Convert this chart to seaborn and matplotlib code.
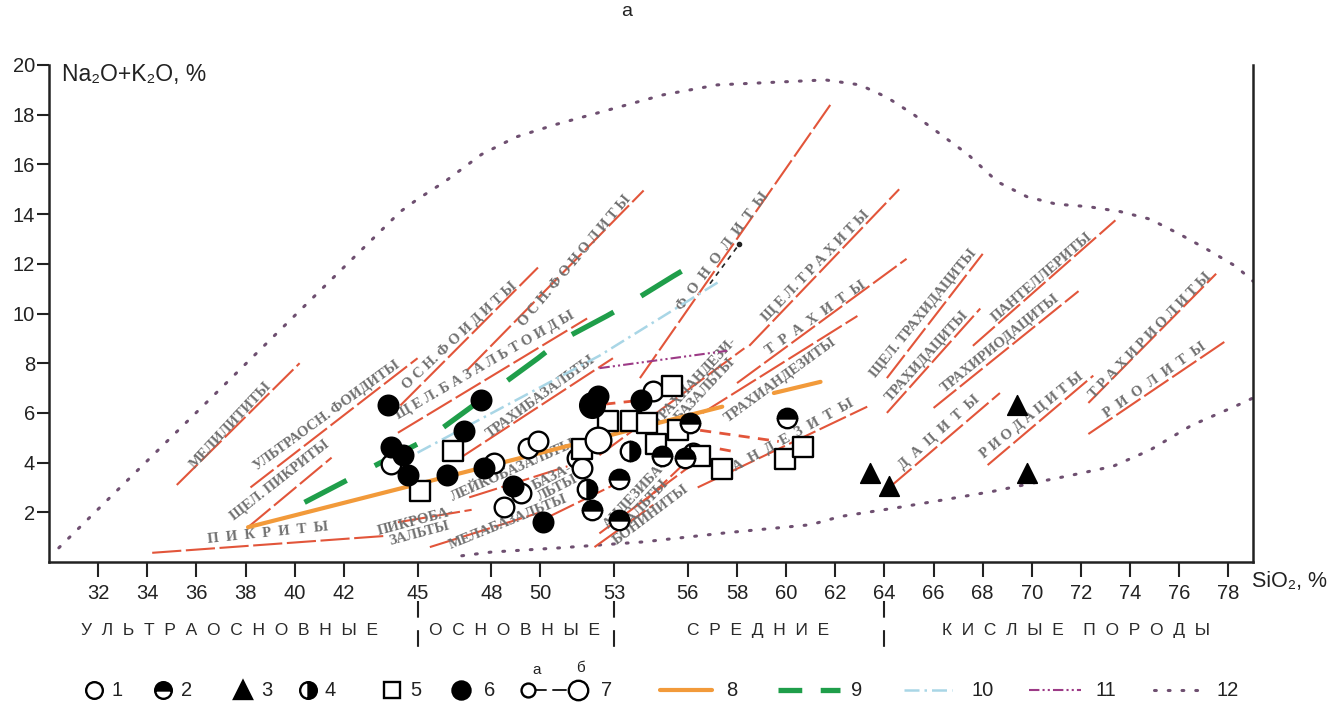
import matplotlib
matplotlib.use("Agg")
import matplotlib.pyplot as plt
import matplotlib.transforms as mtransforms
import seaborn as sns

# ---------------- data (SiO2, %  /  Na2O+K2O, %) ----------------
x_ticks = [32, 34, 36, 38, 40, 42, 45, 48, 50, 53, 56, 58, 60, 62, 64, 66, 68, 70, 72, 74, 76, 78]
y_ticks = [2, 4, 6, 8, 10, 12, 14, 16, 18, 20]

# red dashed field boundaries: (SiO2_1, alk_1, SiO2_2, alk_2)
field_lines = [
    (34.2, 0.37, 43.7, 1.05),
    (35.2, 3.1, 40.2, 8.0),
    (38.2, 3.0, 45.0, 8.2),
    (38.1, 1.4, 41.5, 4.2),
    (44.2, 1.6, 47.2, 2.1),
    (45.5, 0.6, 50.0, 2.0),
    (47.1, 2.6, 51.1, 3.85),
    (50.3, 1.8, 53.6, 3.4),
    (46.6, 4.1, 52.95, 8.2),
    (44.2, 5.2, 51.9, 9.8),
    (44.3, 6.3, 49.9, 11.85),
    (47.0, 7.7, 54.2, 14.95),
    (54.05, 7.4, 61.8, 18.4),
    (58.5, 8.7, 64.6, 15.0),
    (58.0, 7.2, 64.9, 12.2),
    (56.6, 6.0, 62.9, 9.9),
    (52.4, 4.3, 58.3, 8.6),
    (56.4, 3.0, 63.3, 6.25),
    (52.4, 1.15, 56.9, 4.45),
    (54.3, 2.5, 56.0, 4.1),
    (52.2, 0.6, 54.6, 2.3),
    (64.1, 7.4, 68.0, 12.4),
    (64.1, 6.0, 67.9, 10.2),
    (67.6, 8.7, 73.4, 13.75),
    (66.0, 6.2, 71.9, 10.9),
    (64.2, 3.0, 68.7, 6.8),
    (68.2, 3.9, 72.5, 7.5),
    (72.3, 6.4, 77.5, 11.6),
    (72.3, 5.15, 77.9, 8.9),
]

# thick short-dashed red connectors
link_lines = [
    (52.6, 6.35, 54.0, 6.5),
    (56.5, 5.3, 59.7, 4.85),
    (57.3, 4.55, 58.0, 4.42),
]

# field names: (text, SiO2, alk, angle)
field_names = [
    ("П  И  К  Р  И  Т  Ы", 38.9, 1.15, 6),
    ("МЕЛИЛИТИТЫ", 37.4, 5.5, 47),
    ("УЛЬТРАОСН. ФОИДИТЫ", 41.3, 5.9, 36),
    ("ЩЕЛ. ПИКРИТЫ", 39.4, 3.3, 38),
    ("ПИКРОБА-\nЗАЛЬТЫ", 45.0, 1.4, 15),
    ("О С Н. Ф О И Д И Т Ы", 46.7, 9.1, 43),
    ("О С Н. Ф О Н О Л И Т Ы", 51.4, 12.1, 50),
    ("Щ Е Л. Б А З А Л Ь Т О И Д Ы", 47.75, 7.9, 30),
    ("ТРАХИБАЗАЛЬТЫ", 50.0, 6.65, 36),
    ("ЛЕЙКОБАЗАЛЬТЫ", 48.9, 3.7, 24),
    ("БАЗА-\nЛЬТЫ", 50.6, 3.2, 27),
    ("МЕЛАБАЗАЛЬТЫ", 48.7, 1.6, 22),
    ("Ф  О  Н  О  Л  И  Т  Ы", 57.4, 12.5, 53),
    ("Щ Е Л. Т Р А Х И Т Ы", 61.2, 11.9, 46),
    ("Т  Р  А  Х  И  Т  Ы", 61.2, 9.8, 35),
    ("ТРАХИАНДЕЗИТЫ", 59.75, 7.3, 36),
    ("ТРАХИАНДЕЗИ-\nБАЗАЛЬТЫ", 56.5, 7.1, 47),
    ("А  Н  Д  Е  З  И  Т  Ы", 60.3, 5.1, 29),
    ("АНДЕЗИБА-\nЗАЛЬТЫ", 54.05, 2.5, 47),
    ("БОНИНИТЫ", 54.5, 1.9, 37),
    ("ЩЕЛ. ТРАХИДАЦИТЫ", 65.6, 10.0, 51),
    ("ТРАХИДАЦИТЫ", 65.75, 8.3, 48),
    ("ПАНТЕЛЛЕРИТЫ", 70.4, 11.45, 41),
    ("ТРАХИРИОДАЦИТЫ", 68.7, 8.8, 39),
    ("Д  А  Ц  И  Т  Ы", 66.25, 5.2, 42),
    ("Р И О Д А Ц И Т Ы", 70.0, 5.9, 39),
    ("Т Р А Х И Р И О Л И Т Ы", 74.8, 9.1, 46),
    ("Р  И  О  Л  И  Т  Ы", 75.0, 7.3, 35),
]

# trend lines 8-11
orange_sio2 = [[38.1, 57.4], [59.5, 61.4]]
orange_alk = [[1.4, 6.25], [6.8, 7.25]]
green_sio2 = [40.4, 43.5, 45.4, 49.9, 50.8, 52.7, 53.6, 55.4, 56.6]
green_alk = [2.4, 4.0, 4.95, 8.2, 8.9, 9.9, 10.4, 11.5, 12.2]
blue_sio2 = [45.0, 52.4, 57.3]
blue_alk = [4.4, 8.3, 11.3]
magenta_sio2 = [52.4, 57.6]
magenta_alk = [7.8, 8.5]
black_sio2 = [56.9, 58.1]
black_alk = [11.2, 12.8]

# dotted envelope (12)
env_up_sio2 = [30.4, 44.3, 45.0, 46.1, 47.6, 49.0, 50.6, 52.8, 55.0, 57.2, 59.4, 61.6, 63.0,
               64.1, 65.2, 66.3, 67.4, 68.6, 69.8, 71.0, 72.3, 73.6, 74.8, 76.0, 77.1, 78.3, 79.0]
env_up_alk = [0.57, 14.1, 14.6, 15.3, 16.4, 17.1, 17.6, 18.2, 18.8, 19.2, 19.3, 19.4, 19.2,
              18.7, 18.0, 17.2, 16.4, 15.3, 14.7, 14.4, 14.3, 14.1, 13.8, 13.2, 12.6, 11.9, 11.3]
env_lo_sio2 = [46.8, 48.0, 50.8, 54.2, 57.6, 61.0, 62.2, 64.6, 66.4, 68.4, 70.4, 71.65, 73.3,
               74.8, 76.5, 78.35, 79.0]
env_lo_alk = [0.25, 0.4, 0.57, 0.81, 1.18, 1.5, 1.83, 2.2, 2.5, 2.84, 3.25, 3.5, 3.85,
              4.5, 5.5, 6.3, 6.6]

# samples
open_sio2 = [43.9, 48.1, 49.5, 49.9, 48.5, 49.2, 51.5, 51.7, 54.6, 56.2]
open_alk = [3.93, 4.0, 4.6, 4.87, 2.23, 2.76, 4.18, 3.8, 6.9, 4.4]
black_pt_sio2 = [43.8, 43.9, 44.4, 44.6, 46.2, 46.9, 47.6, 47.7, 48.9, 50.1, 52.35, 54.1]
black_pt_alk = [6.33, 4.62, 4.3, 3.5, 3.5, 5.27, 6.53, 3.77, 3.04, 1.62, 6.7, 6.5]
square_sio2 = [45.1, 46.45, 51.7, 52.75, 53.7, 54.35, 55.35, 54.7, 55.6, 56.5, 57.4, 59.95, 60.7]
square_alk = [2.84, 4.46, 4.54, 5.68, 5.68, 5.6, 7.1, 4.75, 5.3, 4.26, 3.73, 4.14, 4.62]
tri_sio2 = [63.4, 64.2, 69.4, 69.8]
tri_alk = [3.6, 3.04, 6.3, 3.6]
half_top_sio2 = [56.1, 54.95, 55.9, 53.2, 52.1, 53.2, 60.05]
half_top_alk = [5.6, 4.26, 4.18, 3.33, 2.1, 1.7, 5.8]
half_side_sio2 = [53.65, 51.9]
half_side_alk = [4.46, 2.92]
big_open = (52.35, 4.9)
big_black = (52.1, 6.3)

groups = ["У  Л  Ь  Т  Р  А  О  С  Н  О  В  Н  Ы  Е", "О  С  Н  О  В  Н  Ы  Е",
          "С  Р  Е  Д  Н  И  Е", "К  И  С  Л  Ы  Е    П  О  Р  О  Д  Ы"]
group_centers = [37.35, 48.95, 58.85, 71.8]
group_bounds = [45, 53, 64]

legend_nums = ["1", "2", "3", "4", "5", "6", "7", "8", "9", "10", "11", "12"]

# ---------------- style ----------------
sns.set_theme(style="white")
plt.rcParams["font.family"] = ["Liberation Sans", "DejaVu Sans"]

RED = "#e2553a"
ORANGE = "#f29a3a"
GREEN = "#1f9e4a"
BLUE = "#a9d6e6"
MAGENTA = "#9c3a86"
DOTS = "#6e4f70"
LABEL = "#707070"
INK = "#222222"

W, H = 1344, 713
fig = plt.figure(figsize=(W / 100, H / 100), dpi=100)
ax = fig.add_axes([49 / W, 1 - 562 / H, (1253 - 49) / W, (562 - 65) / H])
ax.set_xlim(30, 79)
ax.set_ylim(0, 20)

# envelope
for xs, ys in [(env_up_sio2, env_up_alk), (env_lo_sio2, env_lo_alk)]:
    ax.plot(xs, ys, color=DOTS, lw=2.2, linestyle=(0, (0.6, 3.9)),
            dash_capstyle="round", zorder=1)

# field boundaries
for x1, y1, x2, y2 in field_lines:
    ax.plot([x1, x2], [y1, y2], color=RED, lw=1.5, linestyle=(0, (14, 2.2)), zorder=2)
for x1, y1, x2, y2 in link_lines:
    ax.plot([x1, x2], [y1, y2], color=RED, lw=2.0, linestyle=(0, (4, 3)), zorder=2)

# trend lines
for xs, ys in zip(orange_sio2, orange_alk):
    sns.lineplot(x=xs, y=ys, ax=ax, color=ORANGE, lw=3, sort=False, estimator=None, zorder=3)
ax.plot(green_sio2, green_alk, color=GREEN, lw=3.8, linestyle=(0, (9, 6)),
        solid_capstyle="round", zorder=3)
ax.plot(blue_sio2, blue_alk, color=BLUE, lw=1.8, linestyle=(0, (6, 2, 1, 2)), zorder=3)
ax.plot(magenta_sio2, magenta_alk, color=MAGENTA, lw=1.5, linestyle=(0, (5, 1.5, 1, 1.5, 1, 1.5)), zorder=3)
ax.plot(black_sio2, black_alk, color=INK, lw=1.2, linestyle=(0, (3, 3)), zorder=3)
ax.plot(black_sio2[-1:], black_alk[-1:], "o", color=INK, ms=3, zorder=3)

# field names
for txt, sx, sa, ang in field_names:
    ax.text(sx, sa, txt, rotation=ang, rotation_mode="anchor", ha="center", va="center",
            fontsize=10.5, color=LABEL, fontweight="bold", linespacing=0.95,
            family=["Liberation Serif", "DejaVu Serif"], zorder=2)

# samples
sns.scatterplot(x=open_sio2, y=open_alk, ax=ax, marker="o", s=200, facecolor="white",
                edgecolor="black", linewidth=1.7, zorder=5)
sns.scatterplot(x=square_sio2, y=square_alk, ax=ax, marker="s", s=210, facecolor="white",
                edgecolor="black", linewidth=1.7, zorder=5)
sns.scatterplot(x=black_pt_sio2, y=black_pt_alk, ax=ax, marker="o", s=215, color="black",
                edgecolor="black", zorder=6)
sns.scatterplot(x=tri_sio2, y=tri_alk, ax=ax, marker="^", s=200, color="black",
                edgecolor="black", zorder=6)
ax.plot(half_top_sio2, half_top_alk, "o", ls="none", ms=14, fillstyle="top",
        markerfacecolor="black", markerfacecoloralt="white", markeredgecolor="black",
        markeredgewidth=1.7, zorder=6)
ax.plot(half_side_sio2, half_side_alk, "o", ls="none", ms=14, fillstyle="right",
        markerfacecolor="black", markerfacecoloralt="white", markeredgecolor="black",
        markeredgewidth=1.7, zorder=6)
ax.plot(*big_open, "o", ms=18.5, mfc="white", mec="black", mew=1.7, zorder=5)
ax.plot(*big_black, "o", ms=18.5, mfc="black", mec="black", zorder=6)

# axes look
for side in ["left", "bottom", "right"]:
    ax.spines[side].set_color(INK)
    ax.spines[side].set_linewidth(1.8)
ax.spines["top"].set_visible(False)
ax.set_xticks(x_ticks)
ax.set_yticks(y_ticks)
ax.set_xticklabels([str(t) for t in x_ticks])
ax.set_yticklabels([str(t) for t in y_ticks])
ax.tick_params(axis="x", direction="out", length=11, width=1.5, color=INK,
               labelsize=14.5, labelcolor=INK, pad=5, bottom=True)
ax.tick_params(axis="y", direction="out", length=9, width=1.5, color=INK,
               labelsize=14.5, labelcolor=INK, pad=1, left=True)
ax.grid(False)

fig.text(62 / W, 1 - 75 / H, "Na₂O+K₂O, %", fontsize=16.5, color=INK, va="center", ha="left")
fig.text(1252 / W, 1 - 581 / H, "SiO₂, %", fontsize=15.5, color=INK, va="center", ha="left")
fig.text(627 / W, 1 - 12 / H, "а", fontsize=14, color=INK, va="center", ha="center")

# rock groups below the axis
trans = mtransforms.blended_transform_factory(ax.transData, ax.transAxes)
for name, cx in zip(groups, group_centers):
    ax.text(cx, -0.137, name, transform=trans, ha="center", va="center",
            fontsize=12.5, color="#2a2a2a")
for bx in group_bounds:
    ax.plot([bx, bx], [-0.078, -0.19], transform=trans, color=INK, lw=1.5,
            linestyle=(0, (8, 6)), clip_on=False)

# legend row (figure pixel layout)
lg = fig.add_axes([0, 0, 1, 1], zorder=-1)
lg.set_xlim(0, W)
lg.set_ylim(H, 0)
lg.axis("off")
LY = 690
mk = dict(ls="none", mec="black", mew=1.7)
lg.plot(94, LY, "o", ms=12, mfc="white", **mk)
lg.plot(163, LY, "o", ms=12, fillstyle="top", mfc="black", markerfacecoloralt="white", **mk)
lg.plot(243, LY, "^", ms=13, mfc="black", **mk)
lg.plot(308, LY, "o", ms=12, fillstyle="right", mfc="black", markerfacecoloralt="white", **mk)
lg.plot(392, LY, "s", ms=12, mfc="white", **mk)
lg.plot(461, LY, "o", ms=13, mfc="black", **mk)
lg.plot([533, 546], [LY, LY], color=INK, lw=1.4)
lg.plot(528, LY, "o", ms=10, mfc="white", **mk)
lg.plot([553, 566], [LY, LY], color=INK, lw=1.4)
lg.plot(578, LY, "o", ms=14, mfc="white", **mk)
lg.text(537, LY - 20, "а", fontsize=11, ha="center", va="center", color=INK)
lg.text(580, LY - 22, "б", fontsize=11, ha="center", va="center", color=INK)
lg.plot([660, 712], [LY, LY], color=ORANGE, lw=3)
lg.plot([778, 840], [LY, LY], color=GREEN, lw=3.8, linestyle=(0, (4.5, 3.5)))
lg.plot([904, 952], [LY, LY], color=BLUE, lw=1.8, linestyle=(0, (6, 2, 1, 2)))
lg.plot([1029, 1081], [LY, LY], color=MAGENTA, lw=1.5, linestyle=(0, (5, 1.5, 1, 1.5, 1, 1.5)))
lg.plot([1154, 1202], [LY, LY], color=DOTS, lw=2.2, linestyle=(0, (0.6, 3.9)), dash_capstyle="round")
num_x = [117, 187, 267, 330, 416, 490, 607, 732, 857, 983, 1106, 1228]
for n, nx in zip(legend_nums, num_x):
    lg.text(nx, LY, n, fontsize=14.5, ha="center", va="center", color=INK)

fig.savefig("out.png", dpi=100)
